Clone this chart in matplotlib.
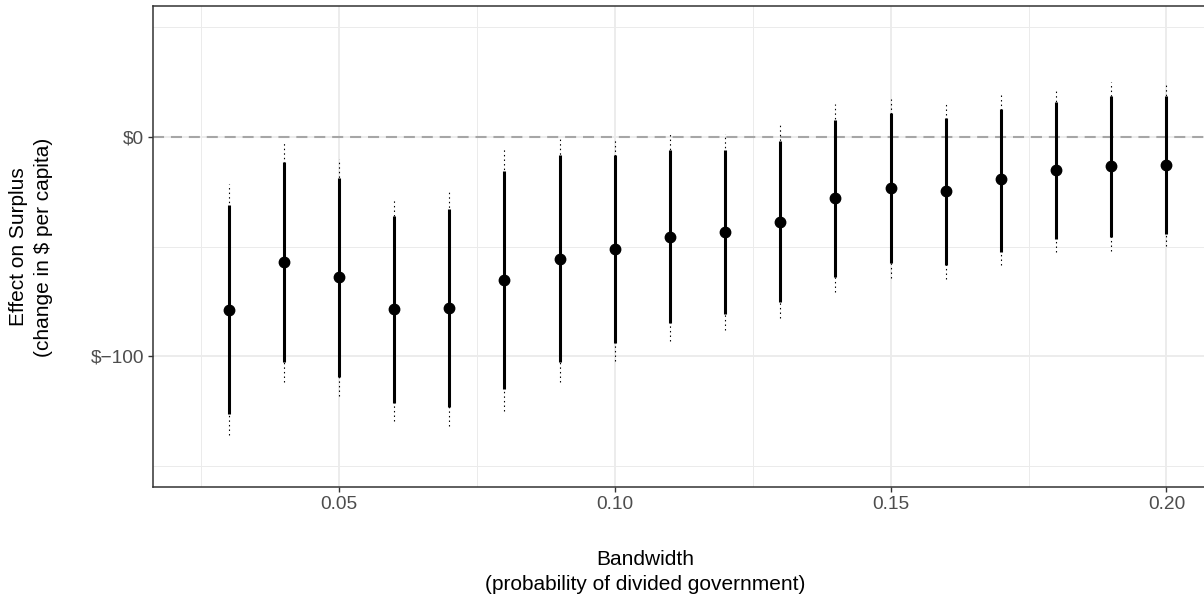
import matplotlib.pyplot as plt
import numpy as np
from matplotlib.ticker import FixedLocator

plt.rcParams['font.family'] = ['Liberation Sans', 'DejaVu Sans']
plt.rcParams['text.parse_math'] = False

# RD estimates of the effect on surplus at each bandwidth
bandwidth = [0.03, 0.04, 0.05, 0.06, 0.07, 0.08, 0.09, 0.10, 0.11,
             0.12, 0.13, 0.14, 0.15, 0.16, 0.17, 0.18, 0.19, 0.20]
estimate = [-78.9, -57.1, -63.7, -78.7, -78.0, -65.2, -55.5, -51.2, -45.6,
            -43.5, -38.6, -27.8, -23.1, -24.8, -19.4, -15.2, -13.4, -12.6]
ci90_lo = [-126.5, -102.9, -109.4, -121.6, -123.1, -115.0, -102.6, -94.2, -85.1,
           -80.8, -75.5, -63.8, -57.5, -58.5, -52.4, -46.8, -45.6, -44.1]
ci90_hi = [-31.1, -11.4, -18.5, -36.2, -33.0, -15.5, -8.3, -8.3, -6.1,
           -6.1, -1.8, 7.9, 11.1, 8.7, 12.9, 16.0, 18.7, 18.6]
ci95_lo = [-136.0, -111.7, -118.1, -129.6, -131.8, -124.9, -111.7, -102.3, -93.0,
           -88.1, -82.8, -71.0, -64.3, -65.0, -58.5, -52.7, -52.0, -49.8]
ci95_hi = [-21.5, -2.7, -9.9, -28.1, -24.3, -5.7, 0.0, -0.7, 1.5,
           1.5, 5.3, 14.9, 17.5, 15.2, 19.5, 22.1, 25.1, 24.6]

W, H = 1204, 598
fig = plt.figure(figsize=(W / 100, H / 100), dpi=100)
# panel runs past the right edge of the figure
ax = fig.add_axes([153 / W, 1 - 487 / H, (1242 - 153) / W, (487 - 6) / H])

grid_col = '#EBEBEB'
dark = '#333333'

ax.axhline(0, color='#A6A6A6', lw=1.5, ls=(0, (5.3, 3.3)), zorder=2)

ax.vlines(bandwidth, ci95_lo, ci95_hi, color='black', lw=0.8,
          linestyles=[(0, (1.3, 2.8))], zorder=3)
ax.vlines(bandwidth, ci90_lo, ci90_hi, color='black', lw=2.2, zorder=4)
ax.plot(bandwidth, estimate, 'o', color='black', ms=7.5, zorder=5)

ax.set_xlim(0.0163, 0.2137)
ax.set_ylim(-159.8, 59.8)

ax.xaxis.set_major_locator(FixedLocator([0.05, 0.10, 0.15, 0.20]))
ax.xaxis.set_minor_locator(FixedLocator([0.025, 0.075, 0.125, 0.175]))
ax.set_xticklabels(['0.05', '0.10', '0.15', '0.20'])
ax.yaxis.set_major_locator(FixedLocator([-100, 0]))
ax.yaxis.set_minor_locator(FixedLocator([-150, -50, 50]))
ax.set_yticklabels(['$\u2212100', '$0'])

ax.grid(which='major', color=grid_col, lw=1.3, zorder=0)
ax.grid(which='minor', color=grid_col, lw=0.7, zorder=0)
ax.set_axisbelow(True)

ax.tick_params(which='major', length=3.5, width=1.0, color=dark,
               labelsize=13.8, labelcolor='#4D4D4D', pad=3)
ax.tick_params(which='minor', length=0)

for s in ax.spines.values():
    s.set_color(dark)
    s.set_linewidth(1.1)

fig.text(645 / W, 1 - 572 / H, 'Bandwidth\n(probability of divided government)',
         ha='center', va='center', fontsize=15, linespacing=1.38)
fig.text(31 / W, 1 - 247 / H, 'Effect on Surplus\n(change in $ per capita)',
         ha='center', va='center', rotation=90, fontsize=15, linespacing=1.38)

fig.savefig('out.png', dpi=100)
